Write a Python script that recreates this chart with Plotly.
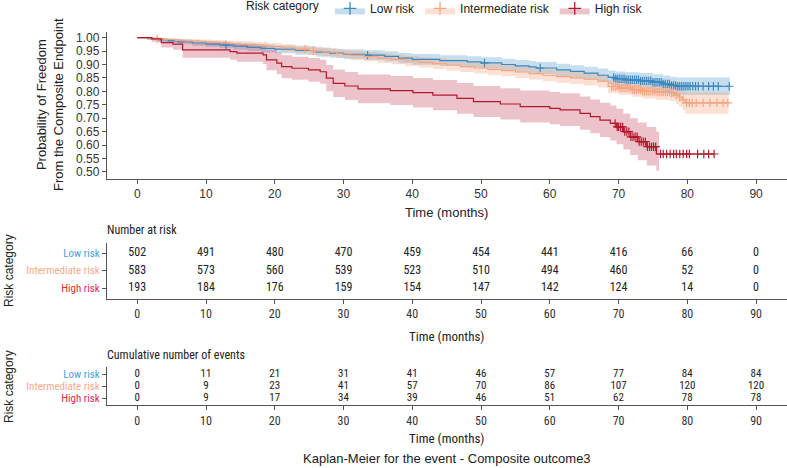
import numpy as np
import plotly.graph_objects as go

# ---------------- data ----------------
groups = ["Low risk", "Intermediate risk", "High risk"]

# Kaplan-Meier step curves: time (months) and survival after each step
low_t = [0, 1.5, 3, 4.5, 6, 8, 10, 12, 14, 16, 18, 20, 23, 26, 28, 30, 33, 36, 38, 40,
         44, 48, 50, 53, 55, 57, 58, 61, 63, 65, 67, 68.5, 69.5, 71, 73, 75, 76.5, 77.5, 78.5, 86.2]
low_s = [1.0, .996, .992, .988, .984, .980, .976, .972, .968, .964, .960, .957, .952, .946, .942, .938, .935, .930, .924, .919,
         .914, .910, .906, .900, .895, .891, .887, .880, .874, .868, .860, .852, .847, .843, .839, .834, .828, .822, .819, .819]
low_hi = [1.0, 1.0, .999, .996, .993, .990, .987, .984, .981, .978, .975, .972, .968, .963, .959, .956, .953, .949, .943, .939,
          .934, .931, .927, .921, .917, .913, .909, .903, .897, .892, .885, .878, .874, .871, .868, .864, .859, .854, .852, .852]
low_lo = [1.0, .991, .985, .980, .975, .970, .965, .960, .955, .950, .945, .942, .936, .929, .925, .920, .917, .911, .905, .899,
          .894, .889, .885, .879, .873, .869, .865, .857, .851, .844, .835, .826, .820, .815, .810, .804, .797, .790, .786, .786]
low_cens = [12.9, 33.5, 50.5, 58.6, 69.3, 69.6, 69.9, 70.2, 70.5, 70.8, 71.1, 71.4, 71.7, 72.0, 72.3, 72.6, 72.9,
            73.2, 73.5, 73.8, 74.1, 74.4, 74.7, 75.0, 75.3, 75.6, 75.9, 76.2, 76.5, 76.8, 77.1, 77.4, 77.7, 78.0,
            78.3, 78.6, 78.9, 79.2, 79.5, 79.8, 80.1, 80.4, 80.8, 81.2, 81.6, 82.3, 83.1, 83.8, 84.5, 86.1]

int_t = [0, 1, 2.5, 4, 5.5, 7, 9, 11, 13, 15, 17, 19, 21, 23, 25, 27, 29, 31, 33, 35,
         37, 39, 41, 43, 45, 47, 49, 51, 53, 55, 57, 59, 61, 63, 65, 67, 68.5, 70, 72, 73.5,
         75.5, 77.5, 78.3, 78.8, 79.3, 79.7, 86]
int_s = [1.0, .998, .995, .993, .990, .988, .985, .982, .978, .975, .971, .967, .962, .957, .951, .946, .940, .934, .929, .924,
         .919, .913, .908, .903, .898, .892, .887, .882, .877, .872, .866, .860, .855, .850, .845, .838, .818, .812, .806, .800,
         .797, .794, .786, .778, .769, .757, .757]
int_hi = [1.0, 1.0, .999, .998, .996, .995, .993, .991, .988, .986, .983, .979, .975, .971, .966, .961, .956, .951, .946, .942,
          .937, .932, .927, .923, .918, .912, .908, .903, .898, .894, .888, .882, .878, .873, .868, .862, .843, .837, .832, .827,
          .825, .824, .818, .813, .807, .797, .797]
int_lo = [1.0, .996, .991, .988, .984, .981, .977, .973, .968, .964, .959, .955, .949, .943, .936, .931, .924, .917, .912, .906,
          .901, .894, .889, .883, .878, .872, .866, .861, .856, .850, .844, .838, .832, .827, .822, .814, .793, .787, .780, .773,
          .769, .764, .754, .743, .731, .717, .717]
int_cens = [2.9, 24.4, 25.6, 69.0, 69.3, 69.6, 69.9, 70.2, 70.5, 70.8, 71.1, 71.4, 71.7, 72.0, 72.3, 72.6, 72.9,
            73.2, 73.5, 73.8, 74.1, 74.4, 74.7, 75.0, 75.3, 75.6, 75.9, 76.2, 76.5, 76.8, 77.1, 77.4, 77.7, 78.0,
            78.4, 78.9, 79.4, 79.9, 80.3, 80.7, 81.3, 82.3, 83.3, 84.3, 85.2, 85.9]

high_t = [0, 2.1, 3.5, 5.2, 6.6, 13.5, 14.5, 18.3, 18.8, 20.3, 21, 22.5, 24.9, 26.6, 27.5, 28.5, 30.2, 32.1, 36.8, 40.1,
          43, 46.5, 48.9, 52.8, 55.7, 60, 61.5, 64.4, 65.9, 67.3, 68.8, 69.7, 70.7, 71.7, 72.8, 74.1, 75.5, 83.9]
high_s = [1.0, .995, .981, .976, .954, .948, .942, .936, .917, .905, .892, .886, .880, .873, .849, .830, .820, .809, .803, .795,
          .786, .774, .762, .753, .743, .737, .731, .718, .706, .693, .681, .668, .650, .631, .613, .594, .567, .567]
high_ci_t = [0, 2.1, 3.5, 5.2, 6.6, 13.5, 14.5, 18.3, 18.8, 20.3, 21, 22.5, 24.9, 26.6, 27.5, 28.5, 30.2, 32.1, 36.8, 40.1,
             43, 46.5, 48.9, 52.8, 55.7, 60, 61.5, 64.4, 65.9, 67.3, 68.8, 69.7, 70.7, 71.7, 72.8, 74.1, 75.5, 75.9]
high_hi = [1.0, 1.0, .996, .993, .982, .978, .974, .970, .955, .945, .934, .929, .924, .918, .898, .881, .872, .863, .857, .850,
           .842, .831, .820, .812, .803, .798, .793, .781, .770, .758, .747, .735, .718, .700, .684, .667, .650, .650]
high_lo = [1.0, .985, .963, .955, .925, .918, .910, .902, .879, .864, .849, .843, .836, .828, .800, .779, .768, .756, .749, .740,
           .730, .717, .705, .695, .684, .678, .671, .657, .644, .630, .617, .603, .584, .563, .544, .524, .505, .505]
high_cens = [69.5, 69.8, 70.0, 70.3, 70.6, 70.9, 71.2, 71.5, 71.8, 72.1, 72.4, 72.7, 73.0, 73.3, 73.6, 73.9, 74.2,
             74.5, 74.8, 75.1, 75.4, 76.1, 76.5, 77.0, 77.5, 78.0, 78.4, 78.9, 79.4, 79.9, 80.3, 81.5, 82.4, 83.1, 83.9]

# tables
table_times = [0, 10, 20, 30, 40, 50, 60, 70, 80, 90]
risk_low = [502, 491, 480, 470, 459, 454, 441, 416, 66, 0]
risk_int = [583, 573, 560, 539, 523, 510, 494, 460, 52, 0]
risk_high = [193, 184, 176, 159, 154, 147, 142, 124, 14, 0]
events_low = [0, 11, 21, 31, 41, 46, 57, 77, 84, 84]
events_int = [0, 9, 23, 41, 57, 70, 86, 107, 120, 120]
events_high = [0, 9, 17, 34, 39, 46, 51, 62, 78, 78]

y_ticks = [0.50, 0.55, 0.60, 0.65, 0.70, 0.75, 0.80, 0.85, 0.90, 0.95, 1.00]

# ---------------- styling ----------------
W, H = 787, 468
def py(px):
    return 1 - px / H
def pxx(px):
    return px / W

line_col = {"Low risk": "#3a88c0", "Intermediate risk": "#f4a582", "High risk": "#b2182b"}
fill_col = {"Low risk": "rgba(67,147,195,0.30)", "Intermediate risk": "rgba(244,165,130,0.35)",
            "High risk": "rgba(190,40,70,0.28)"}
lab_col = {"Low risk": "#4a9fd8", "Intermediate risk": "#f5ab88", "High risk": "#e0284f"}

FONT = "Liberation Sans, Arial, sans-serif"
NARROW = "Liberation Sans Narrow, Arial Narrow, Roboto Condensed, Liberation Sans, sans-serif"
TXT = "#222222"
AX = "#555555"

data = {
    "Low risk": (low_t, low_s, low_t, low_lo, low_hi, low_cens),
    "Intermediate risk": (int_t, int_s, int_t, int_lo, int_hi, int_cens),
    "High risk": (high_t, high_s, high_ci_t, high_lo, high_hi, high_cens),
}

fig = go.Figure()

# confidence bands
for g in groups:
    t, s, ct, lo, hi, cens = data[g]
    fig.add_trace(go.Scatter(x=ct, y=hi, mode="lines", line=dict(width=0, shape="hv"),
                             showlegend=False, hoverinfo="skip"))
    fig.add_trace(go.Scatter(x=ct, y=lo, mode="lines", line=dict(width=0, shape="hv"),
                             fill="tonexty", fillcolor=fill_col[g], showlegend=False, hoverinfo="skip"))

# step curves + censor marks
for g in groups:
    t, s, ct, lo, hi, cens = data[g]
    fig.add_trace(go.Scatter(x=t, y=s, mode="lines", line=dict(color=line_col[g], width=1.2, shape="hv"),
                             showlegend=False))
    idx = np.searchsorted(np.array(t), np.array(cens), side="right") - 1
    cy = [s[i] for i in idx]
    fig.add_trace(go.Scatter(x=cens, y=cy, mode="markers",
                             marker=dict(symbol="cross-thin", size=6, line=dict(color=line_col[g], width=1.2)),
                             showlegend=False))

# legend entries
for g in groups:
    fig.add_trace(go.Scatter(x=[None], y=[None], name=g, mode="markers", fill="toself",
                             fillcolor=fill_col[g],
                             marker=dict(symbol="cross-thin", size=9, line=dict(color=line_col[g], width=1.3))))

# tables
rows = {"Low risk": 3, "Intermediate risk": 2, "High risk": 1}
for g, vals in zip(groups, [risk_low, risk_int, risk_high]):
    fig.add_trace(go.Scatter(x=table_times, y=[rows[g]] * len(table_times), text=[str(v) for v in vals],
                             mode="text", textfont=dict(family=NARROW, size=12, color=TXT),
                             xaxis="x2", yaxis="y2", showlegend=False, hoverinfo="skip"))
for g, vals in zip(groups, [events_low, events_int, events_high]):
    fig.add_trace(go.Scatter(x=table_times, y=[rows[g]] * len(table_times), text=[str(v) for v in vals],
                             mode="text", textfont=dict(family=NARROW, size=11, color=TXT),
                             xaxis="x3", yaxis="y3", showlegend=False, hoverinfo="skip"))

xdom = [pxx(107), 1.0]
xr = [-4.4, 94.5]
common_x = dict(range=xr, domain=xdom, tickvals=table_times, ticks="outside", ticklen=4,
                tickcolor=AX, showline=True, linecolor=AX, linewidth=1.3, showgrid=False,
                zeroline=False, automargin=False, fixedrange=True)
row_ticktext = [f"<span style='color:{lab_col[g]}'>{g}</span>" for g in ["High risk", "Intermediate risk", "Low risk"]]

fig.update_layout(
    width=W, height=H,
    margin=dict(l=0, r=0, t=0, b=0, autoexpand=False),
    paper_bgcolor="white", plot_bgcolor="white",
    font=dict(family=FONT, size=12, color=TXT),
    xaxis=dict(common_x, anchor="y", tickfont=dict(family=FONT, size=12, color="#333")),
    yaxis=dict(domain=[py(178.7), py(31.7)], range=[0.475, 1.022], tickvals=y_ticks, tickformat=".2f",
               ticks="outside", ticklen=4, tickcolor=AX, showline=True, linecolor=AX, linewidth=1.3,
               showgrid=False, zeroline=False, automargin=False, anchor="x",
               tickfont=dict(family=FONT, size=12, color="#333")),
    xaxis2=dict(common_x, anchor="y2", tickfont=dict(family=NARROW, size=12, color="#333")),
    yaxis2=dict(domain=[py(298.5), py(242.5)], range=[0.4, 3.6], tickvals=[1, 2, 3], ticktext=row_ticktext,
                ticks="outside", ticklen=4, tickcolor=AX, showline=True, linecolor=AX, linewidth=1.3,
                showgrid=False, zeroline=False, automargin=False, anchor="x2",
                tickfont=dict(family=NARROW, size=11)),
    xaxis3=dict(common_x, anchor="y3", tickfont=dict(family=NARROW, size=12, color="#333")),
    yaxis3=dict(domain=[py(405.2), py(366.8)], range=[0.4, 3.6], tickvals=[1, 2, 3], ticktext=row_ticktext,
                ticks="outside", ticklen=4, tickcolor=AX, showline=True, linecolor=AX, linewidth=1.3,
                showgrid=False, zeroline=False, automargin=False, anchor="x3",
                tickfont=dict(family=NARROW, size=11)),
    legend=dict(orientation="h", x=pxx(446), xanchor="center", y=1.013, yanchor="top", traceorder="normal",
                title=dict(text="Risk category ", side="left", font=dict(size=12)),
                font=dict(size=12), itemwidth=30, bgcolor="rgba(0,0,0,0)"),
    showlegend=True,
)

ann = [
    dict(text="Probability of Freedom<br>From the Composite Endpoint", x=pxx(50), y=py(105), textangle=-90,
         font=dict(size=13, family=FONT, color=TXT)),
    dict(text="Time (months)", x=pxx(447), y=py(213), font=dict(size=13, family=FONT, color=TXT)),
    dict(text="Number at risk", x=pxx(105), y=py(230), xanchor="left", font=dict(size=12, family=NARROW, color=TXT)),
    dict(text="Risk category", x=pxx(9), y=py(271), textangle=-90, font=dict(size=12, family=FONT, color=TXT)),
    dict(text="Time (months)", x=pxx(447), y=py(336), font=dict(size=13, family=NARROW, color=TXT)),
    dict(text="Cumulative number of events", x=pxx(105), y=py(355), xanchor="left",
         font=dict(size=12, family=NARROW, color=TXT)),
    dict(text="Risk category", x=pxx(9), y=py(387), textangle=-90, font=dict(size=12, family=FONT, color=TXT)),
    dict(text="Time (months)", x=pxx(447), y=py(438), font=dict(size=13, family=NARROW, color=TXT)),
    dict(text="Kaplan-Meier for the event - Composite outcome3", x=pxx(447), y=py(458),
         font=dict(size=13, family=FONT, color=TXT)),
]
for a in ann:
    a.update(xref="paper", yref="paper", showarrow=False)
    a.setdefault("xanchor", "center")
    a.setdefault("yanchor", "middle")
fig.update_layout(annotations=ann)

# remove the browser's default 8px page margin so the figure fills the window exactly
fig.write_html("out.html", config={"displayModeBar": False},
               post_script="document.body.style.margin='0';")
